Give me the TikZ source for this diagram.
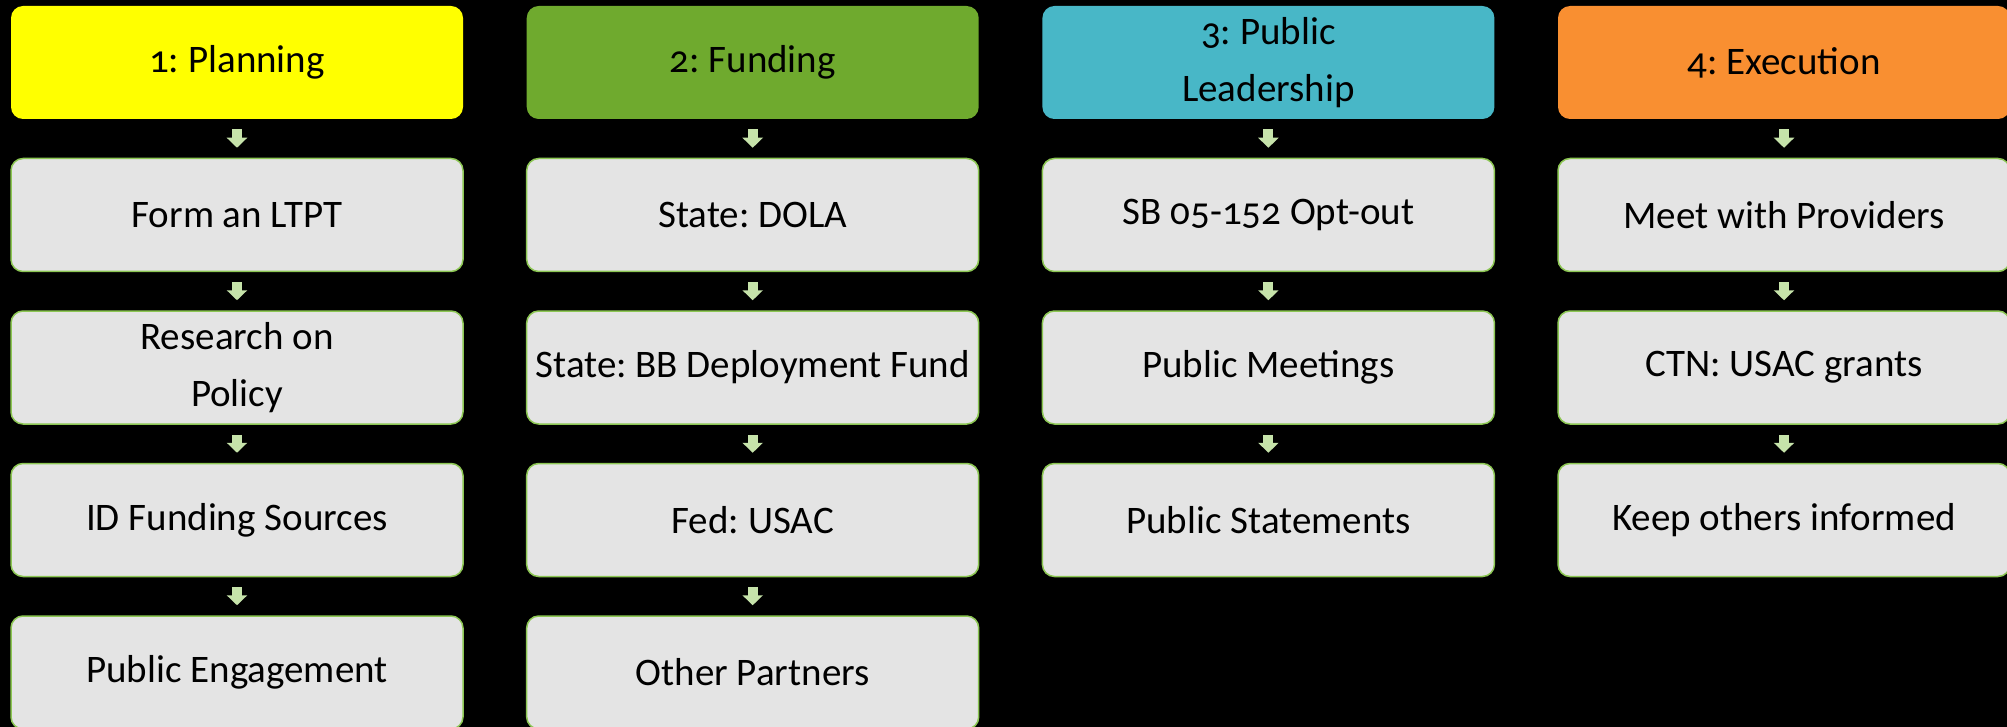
\documentclass[tikz,border=0pt]{standalone}
\usepackage{fontspec}
\setmainfont[Numbers=OldStyle]{Carlito}
\usepackage{tikz}
\usetikzlibrary{arrows.meta}
\frenchspacing

\definecolor{planyellow}{HTML}{FFFF00}
\definecolor{fundgreen}{HTML}{6FAA2E}
\definecolor{leadteal}{HTML}{48B7C7}
\definecolor{execorange}{HTML}{F98F31}
\definecolor{stepgray}{HTML}{E4E4E4}
\definecolor{stepline}{HTML}{8CC653}
\definecolor{arrowgreen}{HTML}{C6E3AA}

\tikzset{
  head/.style={rectangle, rounded corners=12pt, minimum width=452pt, minimum height=113pt,
    inner sep=0pt, align=center, font=\fontsize{39}{57}\selectfont},
  stepbox/.style={head, fill=stepgray, draw=stepline, line width=1.5pt},
  flow/.style={draw=arrowgreen, line width=10pt, shorten <=10pt, shorten >=10pt,
    -{Triangle[width=20pt,length=10pt]}}
}

\begin{document}
\begin{tikzpicture}[x=1pt,y=-1pt]
\useasboundingbox[fill=black] (0,0) rectangle (2007,727);

% headers
\node[head, fill=planyellow] (10) at (237,62.5) {1: Planning};
\node[head, fill=fundgreen] (20) at (752.7,62.5) {2: Funding};
\node[head, fill=leadteal] (30) at (1268.4,62.5) {3: Public\\Leadership};
\node[head, fill=execorange] (40) at (1784,62.5) {4: Execution};

% steps
\foreach \t [count=\j] in {Form an LTPT,{Research on\\Policy},ID Funding Sources,Public Engagement}
    \node[stepbox] (1\j) at (237,62.5+152.5*\j) {\t};
\foreach \t [count=\j] in {State: DOLA,State: BB Deployment Fund,Fed: USAC,Other Partners}
    \node[stepbox] (2\j) at (752.7,62.5+152.5*\j) {\t};
\foreach \t [count=\j] in {SB 05-152 Opt-out,Public Meetings,Public Statements}
    \node[stepbox] (3\j) at (1268.4,62.5+152.5*\j) {\t};
\foreach \t [count=\j] in {Meet with Providers,CTN: USAC grants,Keep others informed}
    \node[stepbox] (4\j) at (1784,62.5+152.5*\j) {\t};

% arrows
\foreach \i/\n in {1/4,2/4,3/3,4/3} {
    \foreach \j in {1,...,\n} {
        \draw[flow] (\i\the\numexpr\j-1) -- (\i\j);
    }
}
\end{tikzpicture}
\end{document}
